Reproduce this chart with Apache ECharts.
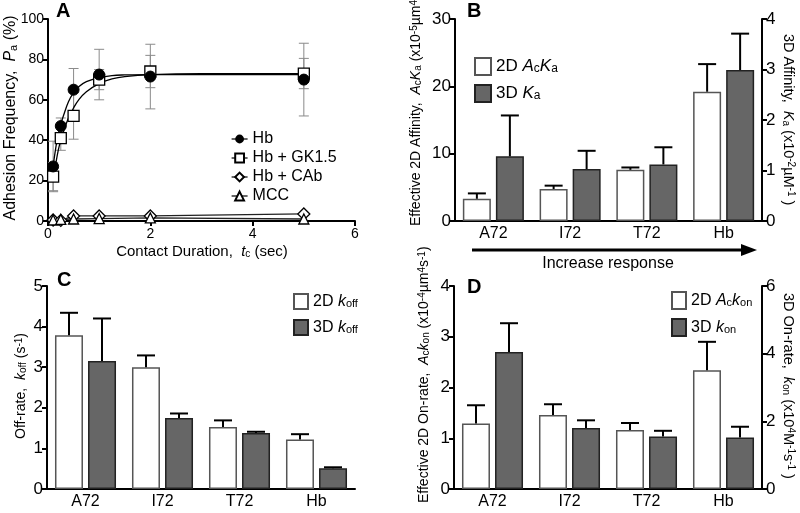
<!DOCTYPE html>
<html><head><meta charset="utf-8">
<script src="https://cdn.jsdelivr.net/npm/echarts@6/dist/echarts.min.js"></script>
<style>html,body{margin:0;padding:0;background:#fff}#c{width:800px;height:513px}</style>
</head><body><div id="c"></div>
<script>
// ---------- Panel A data ----------
const contactTimes = [0.1, 0.25, 0.5, 1, 2, 5];
const hbPa = [27, 47, 65, 72.5, 71.5, 70];
const hbErr = [12.5, 4, 10.5, 12.5, 16, 18];
const gkPa = [22, 41, 52, 70, 74, 73];
const gkErr = [7, 6, 11.5, 5, 8, 7.5];
const cabPa = [0.5, 0.3, 2.5, 2.5, 2.5, 3.5];
const mccPa = [0.5, 0.8, 1, 1.2, 1.5, 1];
const hbFitT = [0.08, 0.1, 0.15, 0.2, 0.25, 0.3, 0.4, 0.5, 0.6, 0.75, 1, 1.25, 1.5, 2, 3, 5];
const hbFitPa = [22, 27, 36, 43, 48, 52, 59, 63.5, 66.5, 69, 71, 72, 72.3, 72.5, 72.5, 72.5];
const gkFitT = [0.1, 0.15, 0.2, 0.25, 0.3, 0.4, 0.5, 0.6, 0.75, 1, 1.25, 1.5, 2, 3, 5];
const gkFitPa = [20, 28, 35, 40, 44, 51, 56, 60, 64, 68, 70.3, 71.5, 72.5, 73, 73];
const aLegend = ['Hb', 'Hb + GK1.5', 'Hb + CAb', 'MCC'];

// ---------- Panels B-D data ----------
const mutants = ['A72', 'I72', 'T72', 'Hb'];
const affinity2D = [3.3, 4.75, 7.6, 19.2];
const affinity2DTop = [4.1, 5.25, 7.95, 23.3];
const affinity3D = [1.28, 1.03, 1.12, 2.99];
const affinity3DTop = [2.09, 1.39, 1.46, 3.71];
const koff2D = [3.79, 3.0, 1.53, 1.22];
const koff2DTop = [4.34, 3.29, 1.69, 1.35];
const koff3D = [3.15, 1.75, 1.38, 0.51];
const koff3DTop = [4.2, 1.86, 1.41, 0.535];
const kon2D = [1.29, 1.46, 1.165, 2.34];
const kon2DTop = [1.65, 1.67, 1.30, 2.90];
const kon3D = [4.05, 1.8, 1.55, 1.52];
const kon3DTop = [4.9, 2.03, 1.72, 1.84];

const FONT = 'Liberation Sans, Arial, Helvetica, sans-serif';
function rich(fs) {
  return {
    i: {fontStyle: 'italic', fontFamily: FONT, fontSize: fs, color: '#000'},
    sub: {fontSize: Math.round(fs * 0.68), verticalAlign: 'bottom', fontFamily: FONT, color: '#000'},
    sup: {fontSize: Math.round(fs * 0.68), verticalAlign: 'top', fontFamily: FONT, color: '#000'}
  };
}

const pair = (xs, ys) => xs.map((x, i) => [x, ys[i]]);

function axisCommon(fs, extra) {
  return Object.assign({
    axisLine: {show: true, onZero: false, lineStyle: {color: '#000', width: 2}},
    axisTick: {show: true, inside: false, length: 5, lineStyle: {color: '#000', width: 2}},
    axisLabel: {color: '#000', fontSize: fs, fontFamily: FONT, margin: 4},
    splitLine: {show: false}
  }, extra);
}
function catAxis(grid) {
  return {
    type: 'category', gridIndex: grid, data: mutants,
    axisLine: {show: true, lineStyle: {color: '#000', width: 2}},
    axisTick: {show: false},
    axisLabel: {color: '#000', fontSize: 16, fontFamily: FONT, margin: 5, interval: 0},
    splitLine: {show: false}
  };
}

function errA(params, api) {
  const x = api.value(0);
  const lo = api.coord([x, api.value(1)]);
  const hi = api.coord([x, api.value(2)]);
  const w = 5, st = {stroke: '#8a8a8a', lineWidth: 1};
  return {type: 'group', children: [
    {type: 'line', shape: {x1: lo[0], y1: lo[1], x2: hi[0], y2: hi[1]}, style: st},
    {type: 'line', shape: {x1: lo[0] - w, y1: lo[1], x2: lo[0] + w, y2: lo[1]}, style: st},
    {type: 'line', shape: {x1: hi[0] - w, y1: hi[1], x2: hi[0] + w, y2: hi[1]}, style: st}
  ]};
}
function errBar(offset) {
  return function (params, api) {
    const i = api.value(0);
    const b = api.coord([i, api.value(1)]);
    const t = api.coord([i, api.value(2)]);
    const x = b[0] + offset, w = 9, st = {stroke: '#000', lineWidth: 2};
    return {type: 'group', children: [
      {type: 'line', shape: {x1: x, y1: b[1], x2: x, y2: t[1]}, style: st},
      {type: 'line', shape: {x1: x - w, y1: t[1], x2: x + w, y2: t[1]}, style: st}
    ]};
  };
}
const whiteBar = {color: '#fff', borderColor: '#555', borderWidth: 1.5};
const grayBar = {color: '#666', borderColor: '#222', borderWidth: 1.5};
const OFF = 16.5;

function barSeries(name, x, y, vals, style) {
  return {type: 'bar', name: name, xAxisIndex: x, yAxisIndex: y, data: vals,
    barWidth: 28, barGap: '18%', itemStyle: style, z: 2};
}
function errSeries(x, y, vals, tops, off) {
  return {type: 'custom', xAxisIndex: x, yAxisIndex: y, z: 3, silent: true,
    renderItem: errBar(off), data: vals.map((v, i) => [i, v, tops[i]])};
}

const legendNames = {
  '2D AcKa': '2D {i|A}{sub|c}{i|K}{sub|a}',
  '3D Ka': '3D {i|K}{sub|a}',
  '2D koff': '2D {i|k}{sub|off}',
  '3D koff': '3D {i|k}{sub|off}',
  '2D Ackon': '2D {i|A}{sub|c}{i|k}{sub|on}',
  '3D kon': '3D {i|k}{sub|on}'
};
function barLegend(names, left, top, fs, w, h, gap) {
  return {
    data: names, left: left, top: top, orient: 'vertical', icon: 'rect',
    itemWidth: w, itemHeight: h, itemGap: gap, selectedMode: false,
    formatter: n => legendNames[n],
    textStyle: {fontSize: fs, fontFamily: FONT, color: '#000', rich: rich(fs)}
  };
}

function gText(txt, x, y, fs, rot, align) {
  return {
    type: 'text', x: x, y: y, rotation: rot || 0, silent: true,
    style: {text: txt, fontSize: fs, fontFamily: FONT, fill: '#000',
      align: align || 'center', textAlign: align || 'center',
      verticalAlign: 'middle', textVerticalAlign: 'middle', rich: rich(fs)}
  };
}
function letter(t, x, y) {
  return {type: 'text', x: x, y: y, silent: true,
    style: {text: t, fontSize: 20, fontWeight: 'bold', fontFamily: FONT, fill: '#000',
      align: 'left', textAlign: 'left', verticalAlign: 'middle', textVerticalAlign: 'middle'}};
}

const chart = echarts.init(document.getElementById('c'));
chart.setOption({
  animation: false,
  backgroundColor: '#fff',
  grid: [
    {left: 48, top: 19, width: 307, height: 202},
    {left: 455, top: 19, width: 307, height: 202},
    {left: 47, top: 286, width: 308, height: 203},
    {left: 454, top: 286, width: 308, height: 203}
  ],
  xAxis: [
    axisCommon(14, {type: 'value', gridIndex: 0, min: 0, max: 6, interval: 2,
      axisLabel: {color: '#000', fontSize: 14, fontFamily: FONT, margin: 6}}),
    catAxis(1), catAxis(2), catAxis(3)
  ],
  yAxis: [
    axisCommon(14, {type: 'value', gridIndex: 0, min: 0, max: 100, interval: 20}),
    axisCommon(17, {type: 'value', gridIndex: 1, min: 0, max: 30, interval: 10}),
    axisCommon(17, {type: 'value', gridIndex: 1, position: 'right', min: 0, max: 4, interval: 1}),
    axisCommon(17, {type: 'value', gridIndex: 2, min: 0, max: 5, interval: 1}),
    axisCommon(17, {type: 'value', gridIndex: 3, min: 0, max: 4, interval: 1}),
    axisCommon(17, {type: 'value', gridIndex: 3, position: 'right', min: 0, max: 6, interval: 2})
  ],
  legend: [
    {data: aLegend, left: 226, top: 126, orient: 'vertical', itemWidth: 16, itemHeight: 11,
      itemGap: 3, selectedMode: false,
      lineStyle: {color: '#000', width: 1.2, opacity: 1},
      textStyle: {fontSize: 16, fontFamily: FONT, color: '#000', lineHeight: 16}},
    barLegend(['2D AcKa', '3D Ka'], 469, 52, 17, 16, 17, 8),
    barLegend(['2D koff', '3D koff'], 288, 288, 16, 14, 15, 9),
    barLegend(['2D Ackon', '3D kon'], 666, 286, 16, 14, 17, 8)
  ],
  series: [
    {type: 'custom', xAxisIndex: 0, yAxisIndex: 0, z: 1, silent: true, renderItem: errA,
      data: contactTimes.map((t, i) => [t, hbPa[i] - hbErr[i], hbPa[i] + hbErr[i]])},
    {type: 'custom', xAxisIndex: 0, yAxisIndex: 0, z: 1, silent: true, renderItem: errA,
      data: contactTimes.map((t, i) => [t, gkPa[i] - gkErr[i], gkPa[i] + gkErr[i]])},
    {type: 'line', name: 'Hb fit', xAxisIndex: 0, yAxisIndex: 0, data: pair(hbFitT, hbFitPa),
      smooth: 0.4, showSymbol: false, symbol: 'none', lineStyle: {color: '#000', width: 1.3}, z: 2, silent: true},
    {type: 'line', name: 'GK fit', xAxisIndex: 0, yAxisIndex: 0, data: pair(gkFitT, gkFitPa),
      smooth: 0.4, showSymbol: false, symbol: 'none', lineStyle: {color: '#000', width: 1.3}, z: 2, silent: true},
    {type: 'line', name: 'Hb + CAb', xAxisIndex: 0, yAxisIndex: 0, data: pair(contactTimes, cabPa),
      symbol: 'diamond', symbolSize: 12, lineStyle: {color: '#222', width: 1.3},
      itemStyle: {color: '#fff', borderColor: '#000', borderWidth: 1.3}, z: 3},
    {type: 'line', name: 'MCC', xAxisIndex: 0, yAxisIndex: 0, data: pair(contactTimes, mccPa),
      symbol: 'triangle', symbolSize: 10, lineStyle: {color: '#222', width: 1.3},
      itemStyle: {color: '#fff', borderColor: '#000', borderWidth: 1.3}, z: 3},
    {type: 'line', name: 'Hb + GK1.5', xAxisIndex: 0, yAxisIndex: 0, data: pair(contactTimes, gkPa),
      symbol: 'rect', symbolSize: 11, lineStyle: {opacity: 0, width: 0},
      itemStyle: {color: '#fff', borderColor: '#000', borderWidth: 1.3}, z: 4},
    {type: 'line', name: 'Hb', xAxisIndex: 0, yAxisIndex: 0, data: pair(contactTimes, hbPa),
      symbol: 'circle', symbolSize: 11, lineStyle: {opacity: 0, width: 0},
      itemStyle: {color: '#000', borderColor: '#000'}, z: 5},
    barSeries('2D AcKa', 1, 1, affinity2D, whiteBar),
    barSeries('3D Ka', 1, 2, affinity3D, grayBar),
    errSeries(1, 1, affinity2D, affinity2DTop, -OFF),
    errSeries(1, 2, affinity3D, affinity3DTop, OFF),
    barSeries('2D koff', 2, 3, koff2D, whiteBar),
    barSeries('3D koff', 2, 3, koff3D, grayBar),
    errSeries(2, 3, koff2D, koff2DTop, -OFF),
    errSeries(2, 3, koff3D, koff3DTop, OFF),
    barSeries('2D Ackon', 3, 4, kon2D, whiteBar),
    barSeries('3D kon', 3, 5, kon3D, grayBar),
    errSeries(3, 4, kon2D, kon2DTop, -OFF),
    errSeries(3, 5, kon3D, kon3DTop, OFF)
  ],
  graphic: [
    letter('A', 56, 11), letter('B', 467, 11), letter('C', 57, 280), letter('D', 467, 287),
    gText('Adhesion Frequency,  {i|P}{sub|a} (%)', 11, 118, 16, Math.PI / 2, 'center'),
    gText('Contact Duration,  {i|t}{sub|c} (sec)', 202, 252, 15, 0, 'center'),
    gText('Effective 2D Affinity,  {i|A}{sub|c}{i|K}{sub|a} (x10{sup|-5}µm{sup|4})', 416, 226, 14, Math.PI / 2, 'left'),
    gText('3D Affinity,  {i|K}{sub|a} (x10{sup|-2}µM{sup|-1} )', 788, 34, 14.5, -Math.PI / 2, 'left'),
    gText('Off-rate,  {i|k}{sub|off} (s{sup|-1})', 21, 386, 14, Math.PI / 2, 'center'),
    gText('Effective 2D On-rate,  {i|A}{sub|c}{i|k}{sub|on} (x10{sup|-4}µm{sup|4}s{sup|-1})', 424, 503, 14, Math.PI / 2, 'left'),
    gText('3D On-rate,  {i|k}{sub|on} (x10{sup|4}M{sup|-1}s{sup|-1} )', 788, 293, 14.5, -Math.PI / 2, 'left'),
    gText('Increase response', 608, 264, 16, 0, 'center'),
    {type: 'line', silent: true, shape: {x1: 472, y1: 250, x2: 745, y2: 250}, style: {stroke: '#000', lineWidth: 3}},
    {type: 'polygon', silent: true, shape: {points: [[741, 244], [757, 250], [741, 256]]}, style: {fill: '#000'}}
  ]
});
</script>
</body></html>
